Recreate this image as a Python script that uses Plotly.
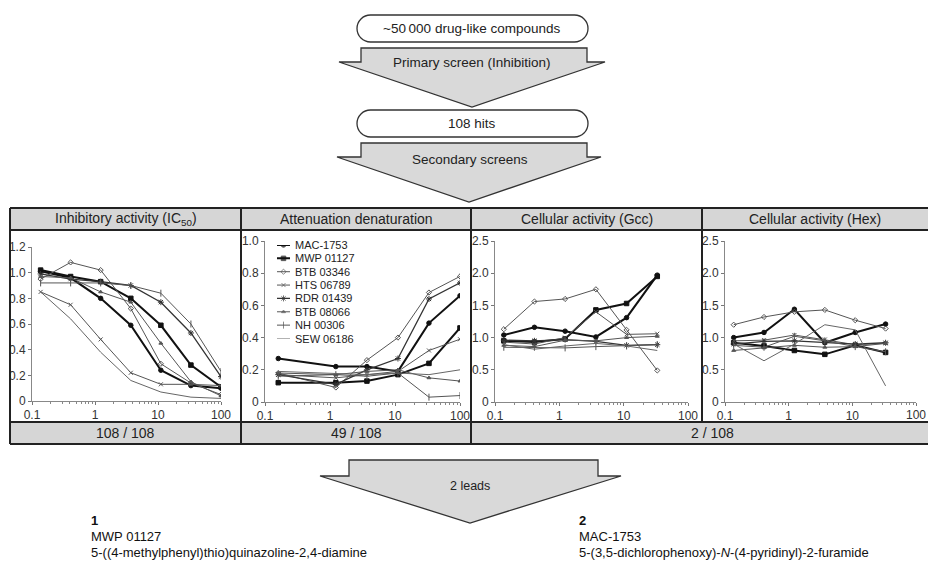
import plotly.graph_objects as go

W, H = 928, 564

# ---------------- data ----------------
series_names = ["MAC-1753", "MWP 01127", "BTB 03346", "HTS 06789",
                "RDR 01439", "BTB 08066", "NH 00306", "SEW 06186"]

conc_ic50 = [0.137, 0.41, 1.23, 3.7, 11.1, 33.3, 100]
conc_denat = [0.16, 1.23, 3.7, 11.1, 33.3, 100]
conc_cell = [0.137, 0.41, 1.23, 3.7, 11.1, 33.3]

ic50_values = [
    [1.01, 0.96, 0.80, 0.59, 0.24, 0.12, 0.10],
    [1.02, 0.97, 0.93, 0.80, 0.59, 0.28, 0.11],
    [0.95, 1.08, 1.02, 0.72, 0.29, 0.14, 0.05],
    [0.85, 0.75, 0.48, 0.22, 0.13, 0.13, 0.12],
    [0.99, 0.95, 0.93, 0.90, 0.77, 0.53, 0.19],
    [0.97, 0.96, 0.85, 0.77, 0.45, 0.15, 0.04],
    [0.92, 0.92, 0.92, 0.90, 0.84, 0.60, 0.23],
    [0.85, 0.64, 0.38, 0.16, 0.07, 0.03, 0.02],
]
denat_values = [
    [0.27, 0.22, 0.22, 0.19, 0.49, 0.66],
    [0.12, 0.12, 0.13, 0.17, 0.24, 0.46],
    [0.18, 0.09, 0.26, 0.40, 0.68, 0.78],
    [0.17, 0.15, 0.17, 0.19, 0.32, 0.39],
    [0.17, 0.11, 0.20, 0.27, 0.64, 0.74],
    [0.18, 0.17, 0.19, 0.20, 0.15, 0.13],
    [0.16, 0.17, 0.16, 0.18, 0.03, 0.04],
    [0.19, 0.18, 0.17, 0.18, 0.17, 0.20],
]
gcc_values = [
    [1.04, 1.16, 1.10, 1.01, 1.31, 1.97],
    [0.95, 0.93, 0.98, 1.43, 1.53, 1.95],
    [1.13, 1.56, 1.60, 1.75, 1.12, 0.49],
    [0.93, 0.90, 1.00, 1.40, 1.05, 1.06],
    [0.96, 0.95, 0.97, 0.94, 0.88, 0.89],
    [0.88, 0.86, 0.96, 0.95, 1.00, 1.02],
    [0.85, 0.85, 0.84, 0.86, 0.87, 0.89],
    [0.89, 0.82, 0.87, 0.91, 0.87, 0.80],
]
hex_values = [
    [1.00, 1.08, 1.44, 0.92, 1.08, 1.21],
    [0.92, 0.87, 0.80, 0.74, 0.88, 0.77],
    [1.20, 1.32, 1.40, 1.43, 1.27, 1.14],
    [0.95, 0.96, 1.04, 0.97, 0.89, 0.91],
    [0.90, 0.94, 0.95, 0.93, 0.90, 0.92],
    [0.80, 0.84, 0.88, 0.85, 0.86, 0.91],
    [0.88, 0.85, 1.02, 0.95, 0.86, 0.78],
    [0.90, 0.64, 0.90, 1.20, 1.12, 0.25],
]

x_tickvals = [0.1, 1, 10, 100]
x_ticktext = ["0.1", "1", "10", "100"]
ic50_tickvals = [0, 0.2, 0.4, 0.6, 0.8, 1.0, 1.2]
ic50_ticktext = ["0", "0.2", "0.4", "0.6", "0.8", "1.0", "1.2"]
denat_tickvals = [0, 0.2, 0.4, 0.6, 0.8, 1.0]
denat_ticktext = ["0", "0.2", "0.4", "0.6", "0.8", "1.0"]
cell_tickvals = [0, 0.5, 1.0, 1.5, 2.0, 2.5]
cell_ticktext = ["0", "0.5", "1.0", "1.5", "2.0", "2.5"]

header_texts = ["Inhibitory activity (IC<sub>50</sub>)", "Attenuation denaturation",
                "Cellular activity (Gcc)", "Cellular activity (Hex)"]
footer_texts = ["108 / 108", "49 / 108", "2 / 108"]
flow_texts = ["~50\u2009000 drug-like compounds", "Primary screen (Inhibition)",
              "108 hits", "Secondary screens", "2 leads"]

lead_numbers = ["1", "2"]
lead_codes = ["MWP 01127", "MAC-1753"]
lead_names = ["5-((4-methylphenyl)thio)quinazoline-2,4-diamine",
              "5-(3,5-dichlorophenoxy)-<i>N</i>-(4-pyridinyl)-2-furamide"]

# ---------------- helpers ----------------
def px(x):
    return x / W


def py(y):
    return 1 - y / H


FONT = "Liberation Sans, Arial, sans-serif"
DARK = "#222222"

styles = [
    dict(color="#111111", width=2.0, symbol="circle", size=4.5),
    dict(color="#111111", width=2.0, symbol="square", size=4.5),
    dict(color="#555555", width=1.0, symbol="diamond-open", size=4),
    dict(color="#555555", width=1.0, symbol="x-thin-open", size=4),
    dict(color="#333333", width=1.3, symbol="asterisk-open", size=5),
    dict(color="#555555", width=1.0, symbol="triangle-up", size=3.5),
    dict(color="#555555", width=1.0, symbol="line-ns-open", size=5),
    dict(color="#666666", width=1.0, symbol=None, size=0),
]

panels = [
    dict(x=conc_ic50, ys=ic50_values, xd=(32, 221), yd=(401, 247), yr=[0, 1.2],
         tv=ic50_tickvals, tt=ic50_ticktext),
    dict(x=conc_denat, ys=denat_values, xd=(265, 460), yd=(402, 241), yr=[0, 1.0],
         tv=denat_tickvals, tt=denat_ticktext),
    dict(x=conc_cell, ys=gcc_values, xd=(495, 688), yd=(402, 241), yr=[0, 2.5],
         tv=cell_tickvals, tt=cell_ticktext),
    dict(x=conc_cell, ys=hex_values, xd=(725, 916), yd=(402, 241), yr=[0, 2.5],
         tv=cell_tickvals, tt=cell_ticktext),
]

minor_vals = [m * 10 ** e for e in (-1, 0, 1) for m in range(2, 10)]

fig = go.Figure()
layout = {}
annotations = []


def make_trace(x, y, st, xa, ya, name, sizes=None):
    kw = dict(x=x, y=y, xaxis=xa, yaxis=ya, name=name, showlegend=False,
              hoverinfo="skip", line=dict(color=st["color"], width=st["width"]))
    if st["symbol"]:
        kw["mode"] = "lines+markers"
        kw["marker"] = dict(symbol=st["symbol"],
                            size=sizes if sizes is not None else st["size"],
                            color=st["color"],
                            line=dict(color=st["color"], width=1))
    else:
        kw["mode"] = "lines"
    return go.Scatter(**kw)


TICKFONT = dict(family=FONT, size=12, color="#333333")
last = len(panels)
for i, p in enumerate(panels):
    n = i + 1
    xa, ya = f"x{n}", f"y{n}"
    for j, ys in enumerate(p["ys"]):
        fig.add_trace(make_trace(p["x"], ys, styles[j], xa, ya, series_names[j]))
    # the right-most panel's last label sits at the page edge, where plotly drops it:
    # its tick is kept and its label is written as an axis-anchored annotation
    tt = list(x_ticktext)
    if n == last:
        tt[-1] = " "
        annotations.append(dict(x=2, y=0, xref=xa, yref=ya, text=x_ticktext[-1],
                                showarrow=False, xanchor="center", yanchor="top",
                                yshift=-4, font=TICKFONT))
    layout[f"xaxis{n}"] = dict(
        domain=[px(p["xd"][0]), px(p["xd"][1])], type="log", range=[-1, 2],
        anchor=ya, tickmode="array", tickvals=x_tickvals, ticktext=tt,
        ticks="outside", ticklen=3, tickcolor="#777777", showline=True,
        linecolor="#888888", linewidth=1, showgrid=False, zeroline=False,
        tickfont=TICKFONT, ticklabeloverflow="allow",
        minor=dict(tickmode="array", tickvals=minor_vals, ticks="outside",
                   ticklen=2, tickcolor="#888888", showgrid=False),
        fixedrange=True)
    layout[f"yaxis{n}"] = dict(
        domain=[py(p["yd"][0]), py(p["yd"][1])], range=p["yr"], anchor=xa,
        tickmode="array", tickvals=p["tv"], ticktext=p["tt"],
        ticks="outside", ticklen=3, tickcolor="#777777", showline=True,
        linecolor="#888888", linewidth=1, showgrid=False, zeroline=False,
        tickfont=TICKFONT, ticklabeloverflow="allow", fixedrange=True)

# ---------------- legend (drawn on a hidden helper axis) ----------------
for j, name in enumerate(series_names):
    st = styles[j]
    fig.add_trace(make_trace([0, 0.5, 1], [j, j, j], st, "x5", "y5", name,
                             sizes=[0, st["size"], 0]))
layout["xaxis5"] = dict(domain=[px(277), px(290)], range=[0, 1], visible=False,
                        anchor="y5", fixedrange=True)
layout["yaxis5"] = dict(domain=[py(338.5), py(245)], range=[7, 0], visible=False,
                        anchor="x5", fixedrange=True)

for j, name in enumerate(series_names):
    annotations.append(dict(x=1, y=j, xref="x5", yref="y5", text=name, showarrow=False,
                            xanchor="left", yanchor="middle", xshift=3,
                            font=dict(family=FONT, size=11, color="#222222")))

# ---------------- table ----------------
shapes = []
LINE = dict(color=DARK, width=2)
TOP, HB, FT, FB = 208, 230, 422, 444
L, C1, C2, C3, R = 10, 241, 471, 702, 960
shapes.append(dict(type="rect", xref="paper", yref="paper", x0=px(L), x1=px(R),
                   y0=py(HB), y1=py(TOP), fillcolor="#d6d6d6", line=dict(width=0),
                   layer="below"))
shapes.append(dict(type="rect", xref="paper", yref="paper", x0=px(L), x1=px(R),
                   y0=py(FB), y1=py(FT), fillcolor="#d6d6d6", line=dict(width=0),
                   layer="below"))
for yy in (TOP, HB, FT, FB):
    shapes.append(dict(type="line", xref="paper", yref="paper", x0=px(L), x1=px(R),
                       y0=py(yy), y1=py(yy), line=LINE))
for xx in (L, C1, C2):
    shapes.append(dict(type="line", xref="paper", yref="paper", x0=px(xx), x1=px(xx),
                       y0=py(TOP), y1=py(FB), line=LINE))
shapes.append(dict(type="line", xref="paper", yref="paper", x0=px(C3), x1=px(C3),
                   y0=py(TOP), y1=py(FT), line=LINE))

header_x = [(L + C1) / 2, (C1 + C2) / 2, (C2 + C3) / 2, 815]
for t, xx in zip(header_texts, header_x):
    annotations.append(dict(x=px(xx), y=py((TOP + HB) / 2), xref="paper", yref="paper",
                            text=t, showarrow=False, xanchor="center", yanchor="middle",
                            font=dict(family=FONT, size=14, color="#222222")))
footer_x = [(L + C1) / 2, (C1 + C2) / 2, 712]
for t, xx in zip(footer_texts, footer_x):
    annotations.append(dict(x=px(xx), y=py((FT + FB) / 2), xref="paper", yref="paper",
                            text=t, showarrow=False, xanchor="center", yanchor="middle",
                            font=dict(family=FONT, size=14, color="#222222")))


# ---------------- flowchart ----------------
def path_from(points):
    return "M " + " L ".join(f"{px(a):.5f},{py(b):.5f}" for a, b in points) + " Z"


def arrow(sl, sr, top, sh, wl, wr, tx, ty):
    pts = [(sl, top), (sr, top), (sr, sh), (wr, sh), (tx, ty), (wl, sh), (sl, sh)]
    return dict(type="path", xref="paper", yref="paper", path=path_from(pts),
                fillcolor="#d9d9d9", line=dict(color="#333333", width=1.3))


def stadium(x0, x1, y0, y1):
    r = (y1 - y0) / 2
    yc = (y0 + y1) / 2
    k = 0.5523 * r

    def P(a, b):
        return f"{px(a):.5f},{py(b):.5f}"
    d = (f"M {P(x0 + r, y0)} L {P(x1 - r, y0)} "
         f"C {P(x1 - r + k, y0)} {P(x1, yc - k)} {P(x1, yc)} "
         f"C {P(x1, yc + k)} {P(x1 - r + k, y1)} {P(x1 - r, y1)} "
         f"L {P(x0 + r, y1)} "
         f"C {P(x0 + r - k, y1)} {P(x0, yc + k)} {P(x0, yc)} "
         f"C {P(x0, yc - k)} {P(x0 + r - k, y0)} {P(x0 + r, y0)} Z")
    return dict(type="path", xref="paper", yref="paper", path=d,
                fillcolor="white", line=dict(color="#333333", width=1.3))


shapes.append(stadium(357, 588, 15, 42))
shapes.append(arrow(361, 587, 48, 62, 339, 605, 472, 107))
shapes.append(stadium(357, 588, 110, 137))
shapes.append(arrow(361, 587, 143, 157, 337, 601, 469, 202))
shapes.append(arrow(349, 598, 460, 476, 320, 621, 470, 523))

flow_pos = [(472, 28.5), (472, 63), (472, 123.5), (470, 160), (470, 486)]
flow_sizes = [13.5, 13.5, 13.5, 13.5, 12.5]
for t, (xx, yy), fs in zip(flow_texts, flow_pos, flow_sizes):
    annotations.append(dict(x=px(xx), y=py(yy), xref="paper", yref="paper", text=t,
                            showarrow=False, xanchor="center", yanchor="middle",
                            font=dict(family=FONT, size=fs, color="#222222")))

# ---------------- leads ----------------
lead_x = [89, 577]
for num, code, nm, xx in zip(lead_numbers, lead_codes, lead_names, lead_x):
    for txt, yy in ((f"<b>{num}</b>", 520), (code, 536), (nm, 552)):
        annotations.append(dict(x=px(xx), y=py(yy), xref="paper", yref="paper",
                                text=txt, showarrow=False, xanchor="left",
                                yanchor="middle",
                                font=dict(family=FONT, size=13, color="#111111")))

fig.update_layout(
    template="none",
    width=W, height=H, margin=dict(l=0, r=0, t=0, b=0, pad=0),
    paper_bgcolor="white", plot_bgcolor="rgba(0,0,0,0)",
    showlegend=False, shapes=shapes, annotations=annotations,
    font=dict(family=FONT, color="#222222"), **layout)

fig.write_html(
    "out.html",
    config={"displayModeBar": False},
    post_script="document.body.style.margin='0';document.body.style.overflow='hidden';")
